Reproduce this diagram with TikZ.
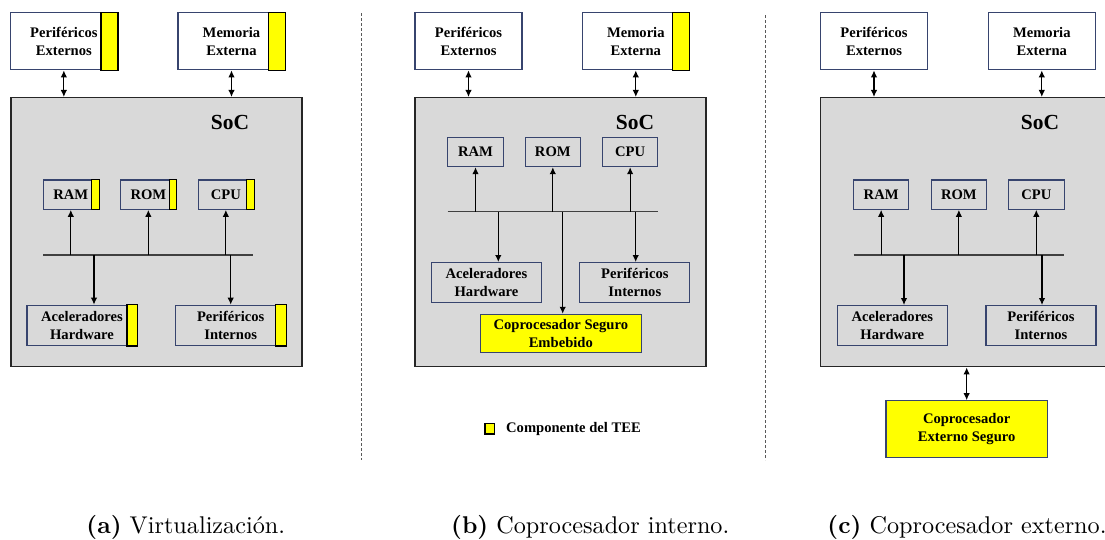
\documentclass[tikz,border=0pt]{standalone}
\usepackage{fontspec}
\usetikzlibrary{arrows.meta}
\newfontfamily\tnr{Liberation Serif}
\definecolor{boxline}{RGB}{55,68,110}
\definecolor{socfill}{RGB}{217,217,217}
\definecolor{teeyellow}{RGB}{255,255,0}
\tikzset{
  x=1pt, y=-1pt,
  blk/.style={draw=boxline, line width=1.1pt, align=center, inner sep=0pt,
    font=\tnr\bfseries\fontsize{14.6}{17.6}\selectfont},
  extbox/.style={blk, fill=white, minimum width=107pt, minimum height=57pt},
  membox/.style={blk, minimum width=55.5pt, minimum height=29.3pt},
  ipbox/.style={blk, minimum width=110pt, minimum height=40.3pt},
  secbox/.style={blk, fill=teeyellow},
  socbox/.style={draw=black!85, line width=1.5pt, fill=socfill, minimum width=291pt, minimum height=269pt, inner sep=0pt},
  soclabel/.style={font=\tnr\bfseries\fontsize{21.5}{24}\selectfont, inner sep=0pt},
  strip/.style={draw=black, line width=1.2pt, fill=teeyellow},
  link/.style={line width=1.2pt, -{Latex[length=7pt,width=6.5pt]}},
  dlink/.style={line width=1.2pt, {Latex[length=7pt,width=6.5pt]}-{Latex[length=7pt,width=6.5pt]}},
  bus/.style={line width=1.3pt, draw=black!75},
  divider/.style={draw=black!65, line width=0.8pt, dash pattern=on 3pt off 2pt},
  caption/.style={anchor=base west, inner sep=0pt, scale=2.42},
}
\begin{document}
\begin{tikzpicture}
\clip (0,0) rectangle (1105,539);
\fill[white] (0,0) rectangle (1105,539);

% ---------- (a) Virtualizacion ----------
\node[socbox] (a-soc) at (156.35,232.2) {};
\node[soclabel] (a-soclbl) at (230,122) {SoC};
\node[extbox] (a-pe) at (63.85,41.35) {Periféricos\\Externos};
\node[extbox] (a-me) at (231.5,41.35) {Memoria\\Externa};
\node[membox] (a-ram) at (70.8,194.65) {RAM};
\node[membox] (a-rom) at (148.35,194.65) {ROM};
\node[membox] (a-cpu) at (225.85,194.65) {CPU};
\node[ipbox] (a-acel) at (82,325.35) {Aceleradores\\Hardware};
\node[ipbox] (a-pi) at (230.7,325.35) {Periféricos\\Internos};
\draw[strip] ([xshift=-17pt]a-pe.north east) rectangle (a-pe.south east);
\draw[strip] ([xshift=-17pt]a-me.north east) rectangle (a-me.south east);
\draw[strip] ([xshift=-7.5pt]a-ram.north east) rectangle (a-ram.south east);
\draw[strip] ([xshift=-7.5pt]a-rom.north east) rectangle (a-rom.south east);
\draw[strip] ([xshift=-7.5pt]a-cpu.north east) rectangle (a-cpu.south east);
\draw[strip] ([xshift=-10.5pt]a-acel.north east) rectangle (a-acel.south east);
\draw[strip] ([xshift=-10.5pt]a-pi.north east) rectangle (a-pi.south east);
\coordinate (a-busl) at (43.3,255);
\coordinate (a-busr) at (253.3,255);
\coordinate (a-tap1) at (94,255);
\coordinate (a-tap2) at (230.7,255);
\draw[bus] (a-busl) -- (a-busr);
\draw[link] (a-ram.south |- a-busl) -- (a-ram.south);
\draw[link] (a-rom.south |- a-busl) -- (a-rom.south);
\draw[link] (a-cpu.south |- a-busl) -- (a-cpu.south);
\draw[link] (a-tap1) -- (a-tap1 |- a-acel.north);
\draw[link] (a-tap2) -- (a-tap2 |- a-pi.north);
\draw[dlink] (a-pe.south) -- (a-pe.south |- a-soc.north);
\draw[dlink] (a-me.south) -- (a-me.south |- a-soc.north);

\coordinate (div1t) at (361,13);
\coordinate (div1b) at (361,460);
\draw[divider] (div1t) -- (div1b);

% ---------- (b) Coprocesador interno ----------
\node[socbox] (b-soc) at (560.5,232.2) {};
\node[soclabel] (b-soclbl) at (635,122) {SoC};
\node[extbox] (b-pe) at (468.5,41.35) {Periféricos\\Externos};
\node[extbox] (b-me) at (635.8,41.35) {Memoria\\Externa};
\node[membox] (b-ram) at (475.5,152) {RAM};
\node[membox] (b-rom) at (552.8,152) {ROM};
\node[membox] (b-cpu) at (630.15,152) {CPU};
\node[ipbox] (b-acel) at (486.5,282.7) {Aceleradores\\Hardware};
\node[ipbox] (b-pi) at (634.85,282.7) {Periféricos\\Internos};
\node[secbox, minimum width=161pt, minimum height=38pt] (b-cop) at (560.8,333.3) {Coprocesador Seguro\\Embebido};
\draw[strip] ([xshift=-17pt]b-me.north east) rectangle (b-me.south east);
\coordinate (b-busl) at (447.7,211.7);
\coordinate (b-busr) at (657.7,211.7);
\coordinate (b-tap1) at (498.3,211.7);
\coordinate (b-tap2) at (635.7,211.7);
\coordinate (b-tap3) at (562.7,211.7);
\draw[bus] (b-busl) -- (b-busr);
\draw[link] (b-ram.south |- b-busl) -- (b-ram.south);
\draw[link] (b-rom.south |- b-busl) -- (b-rom.south);
\draw[link] (b-cpu.south |- b-busl) -- (b-cpu.south);
\draw[link] (b-tap1) -- (b-tap1 |- b-acel.north);
\draw[link] (b-tap2) -- (b-tap2 |- b-pi.north);
\draw[link] (b-tap3) -- (b-tap3 |- b-cop.north);
\draw[dlink] (b-pe.south) -- (b-pe.south |- b-soc.north);
\draw[dlink] (b-me.south) -- (b-me.south |- b-soc.north);

% legend
\node[draw=black, line width=1.1pt, fill=teeyellow, minimum width=9.5pt, minimum height=10.5pt, inner sep=0pt] (legsq) at (489.7,428.7) {};
\node[anchor=west, inner sep=0pt, font=\tnr\bfseries\fontsize{14.6}{17.6}\selectfont] (legtxt) at (506,429) {Componente del TEE};

\coordinate (div2t) at (765,15);
\coordinate (div2b) at (765,460);
\draw[divider] (div2t) -- (div2b);

% ---------- (c) Coprocesador externo ----------
\node[socbox] (c-soc) at (965.8,232.2) {};
\node[soclabel] (c-soclbl) at (1040,122) {SoC};
\node[extbox] (c-pe) at (874,41.35) {Periféricos\\Externos};
\node[extbox] (c-me) at (1041.8,41.35) {Memoria\\Externa};
\node[membox] (c-ram) at (881.15,194.65) {RAM};
\node[membox] (c-rom) at (958.85,194.65) {ROM};
\node[membox] (c-cpu) at (1036.3,194.65) {CPU};
\node[ipbox] (c-acel) at (892.3,325.7) {Aceleradores\\Hardware};
\node[ipbox] (c-pi) at (1041,325.7) {Periféricos\\Internos};
\node[secbox, minimum width=161.3pt, minimum height=57pt] (c-cop) at (966.65,429.2) {Coprocesador\\Externo Seguro};
\coordinate (c-busl) at (853.7,255);
\coordinate (c-busr) at (1063.7,255);
\coordinate (c-tap1) at (904,255);
\coordinate (c-tap2) at (1042,255);
\draw[bus] (c-busl) -- (c-busr);
\draw[link] (c-ram.south |- c-busl) -- (c-ram.south);
\draw[link] (c-rom.south |- c-busl) -- (c-rom.south);
\draw[link] (c-cpu.south |- c-busl) -- (c-cpu.south);
\draw[link] (c-tap1) -- (c-tap1 |- c-acel.north);
\draw[link] (c-tap2) -- (c-tap2 |- c-pi.north);
\draw[dlink] (c-pe.south) -- (c-pe.south |- c-soc.north);
\draw[dlink] (c-me.south) -- (c-me.south |- c-soc.north);
\draw[dlink] (c-soc.south -| c-cop.north) -- (c-cop.north);

% ---------- captions ----------
\node[caption] (cap-a) at (86,533) {\textbf{(a)}\ Virtualización.};
\node[caption] (cap-b) at (450.7,533) {\textbf{(b)}\ Coprocesador interno.};
\node[caption] (cap-c) at (827,533) {\textbf{(c)}\ Coprocesador externo.};
\end{tikzpicture}
\end{document}
